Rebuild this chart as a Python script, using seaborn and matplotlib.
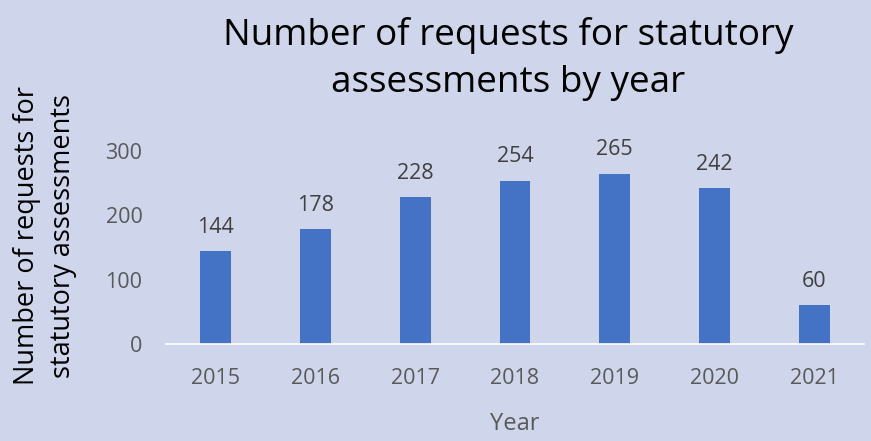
import matplotlib
matplotlib.use("Agg")
import matplotlib.pyplot as plt
import seaborn as sns
import pandas as pd

years = ["2015", "2016", "2017", "2018", "2019", "2020", "2021"]
requests = [144, 178, 228, 254, 265, 242, 60]
yticks = [0, 100, 200, 300]

sns.set_theme(style="white")
plt.rcParams['font.family'] = ['Open Sans', 'DejaVu Sans']

bg = "#CFD6EB"
bar_color = "#4472C4"

df = pd.DataFrame({"Year": years, "Requests": requests})

fig = plt.figure(figsize=(8.71, 4.41), dpi=100, facecolor=bg)
ax = fig.add_axes([0.1906, 0.22, 0.8014, 0.4376])
ax.set_facecolor(bg)

sns.barplot(data=df, x="Year", y="Requests", color=bar_color, width=0.31,
            saturation=1, linewidth=0, ax=ax)

for p, v in zip(ax.patches, requests):
    ax.annotate(str(v), (p.get_x() + p.get_width() / 2, v), xytext=(0, 9.5),
                textcoords="offset points", ha="center", va="bottom",
                fontsize=15.5, color="#404040")

ax.set_ylim(0, 300)
ax.set_xlim(-0.5, len(years) - 0.5)
ax.set_yticks(yticks)
ax.tick_params(axis="both", length=0, labelsize=15.5, labelcolor="#595959")
ax.tick_params(axis="y", pad=17)
ax.tick_params(axis="x", pad=17)
for s in ["top", "right", "left"]:
    ax.spines[s].set_visible(False)
ax.spines["bottom"].set_color("white")
ax.spines["bottom"].set_linewidth(1.2)

ax.set_xlabel("Year", fontsize=17, color="#595959", labelpad=17)
ax.set_ylabel("Number of requests for\nstatutory assessments", fontsize=19.5,
              color="black", linespacing=1.35)
ax.yaxis.set_label_coords(-0.128, 0.56)

fig.text(0.583, 0.962, "Number of requests for statutory\nassessments by year",
         ha="center", va="top", fontsize=26.6, color="black", linespacing=1.4)

fig.savefig("out.png", dpi=100, facecolor=bg)
